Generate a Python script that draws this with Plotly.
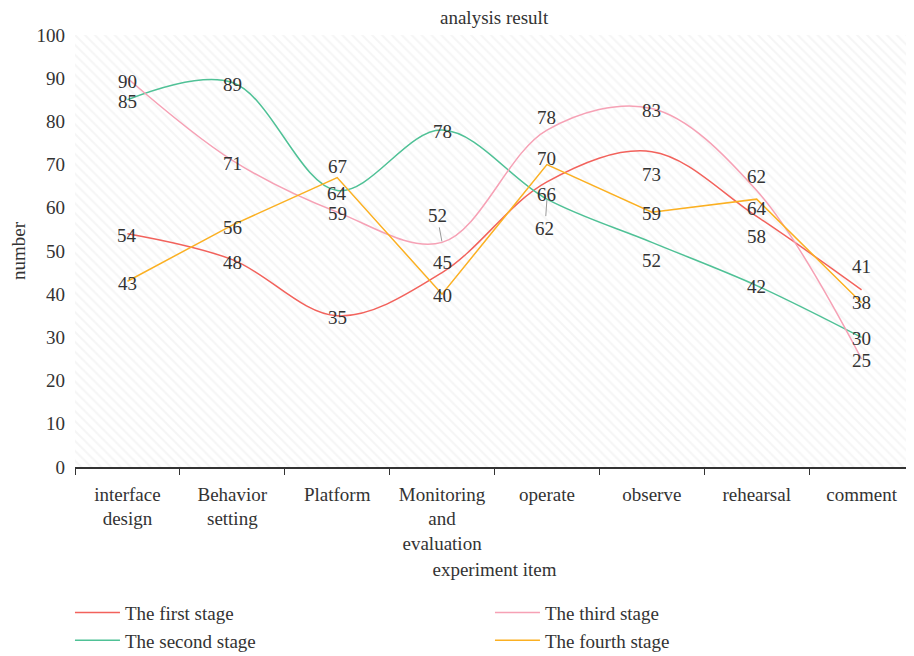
import plotly.graph_objects as go

categories = ["interface<br>design", "Behavior<br>setting", "Platform",
              "Monitoring<br>and<br>evaluation", "operate", "observe",
              "rehearsal", "comment"]
first_stage = [54, 48, 35, 45, 66, 73, 58, 41]
second_stage = [85, 89, 64, 78, 62, 52, 42, 30]
third_stage = [90, 71, 59, 52, 78, 83, 64, 25]
fourth_stage = [43, 56, 67, 40, 70, 59, 62, 38]
y_ticks = [0, 10, 20, 30, 40, 50, 60, 70, 80, 90, 100]

# label pixel offsets (down positive) to mimic the reference's label layout
first_off = [2, 3, 2, -10, 13, 23, 20, -23]
second_off = [2, 2, 3, 1, 29, 18, 1, 1]
third_off = [3, 3, 1, -27, -13, 2, 18, 1]
fourth_off = [2, 2, -11, 1, -6, 1, -23, 0]

FONT = "Liberation Serif, DejaVu Serif, serif"
FS = 19
xs = list(range(len(categories)))

fig = go.Figure()

# faint hatched background of the plot area
fig.add_trace(go.Scatter(
    x=[-0.5, len(categories) - 0.5, len(categories) - 0.5, -0.5, -0.5],
    y=[0, 0, 100, 100, 0], mode="lines", line=dict(width=0),
    fill="toself", fillcolor="rgba(0,0,0,0)",
    fillpattern=dict(shape="\\", fgcolor="#ececec", bgcolor="white", size=7, solidity=0.3),
    hoverinfo="skip", showlegend=False))

series = [
    ("The first stage", first_stage, first_off, "#f2625c", "spline", 1),
    ("The second stage", second_stage, second_off, "#4fc196", "spline", 3),
    ("The third stage", third_stage, third_off, "#f6a1b5", "spline", 2),
    ("The fourth stage", fourth_stage, fourth_off, "#fbb022", "linear", 4),
]

annotations = []
for name, vals, offs, color, shape, rank in series:
    fig.add_trace(go.Scatter(
        x=xs, y=vals, mode="lines", name=name,
        line=dict(color=color, width=1.5, shape=shape, smoothing=1.0),
        legendrank=rank))
    for i, (v, o) in enumerate(zip(vals, offs)):
        if abs(o) > 25:
            annotations.append(dict(
                x=i, y=v, xref="x", yref="y", text=str(v), showarrow=True,
                arrowhead=0, arrowwidth=1, arrowcolor="#999999",
                ax=-5 if o < 0 else -2, ay=o, standoff=1,
                font=dict(family=FONT, size=FS, color="#333333")))
        else:
            annotations.append(dict(
                x=i, y=v, xref="x", yref="y", text=str(v), showarrow=False,
                yshift=-o, font=dict(family=FONT, size=FS, color="#333333")))

annotations.append(dict(
    x=0.5, y=1.0, xref="paper", yref="paper", yshift=30, text="analysis result",
    showarrow=False, font=dict(family=FONT, size=19, color="#333333")))

fig.update_layout(
    width=906, height=648,
    margin=dict(l=67, r=0, t=27, b=189, autoexpand=False),
    paper_bgcolor="white", plot_bgcolor="white",
    font=dict(family=FONT, size=FS, color="#333333"),
    showlegend=True,
    legend=dict(orientation="h", x=-0.006, xanchor="left", y=-0.293, yanchor="top",
                entrywidth=360, entrywidthmode="pixels",
                font=dict(family=FONT, size=FS, color="#333333"),
                tracegroupgap=0, itemwidth=45, bgcolor="rgba(0,0,0,0)"),
    annotations=annotations,
    xaxis=dict(range=[-0.5, len(categories) - 0.5], tickvals=xs, ticktext=categories,
               ticks="", showgrid=False, zeroline=False,
               showline=True, linecolor="#333333", linewidth=1.5,
               minor=dict(tick0=-0.5, dtick=1, ticks="outside", ticklen=6,
                          tickcolor="#333333", showgrid=False),
               ticklabelstandoff=9,
               tickfont=dict(family=FONT, size=FS, color="#333333"),
               title=dict(text="experiment item", standoff=10,
                          font=dict(family=FONT, size=FS, color="#333333"))),
    yaxis=dict(range=[0, 100], tickvals=y_ticks, showgrid=False, zeroline=False,
               showline=False, ticks="", ticklabelstandoff=9,
               tickfont=dict(family=FONT, size=FS, color="#333333"),
               title=dict(text="number", standoff=12,
                          font=dict(family=FONT, size=FS, color="#333333"))),
)

fig.write_html("out.html")
